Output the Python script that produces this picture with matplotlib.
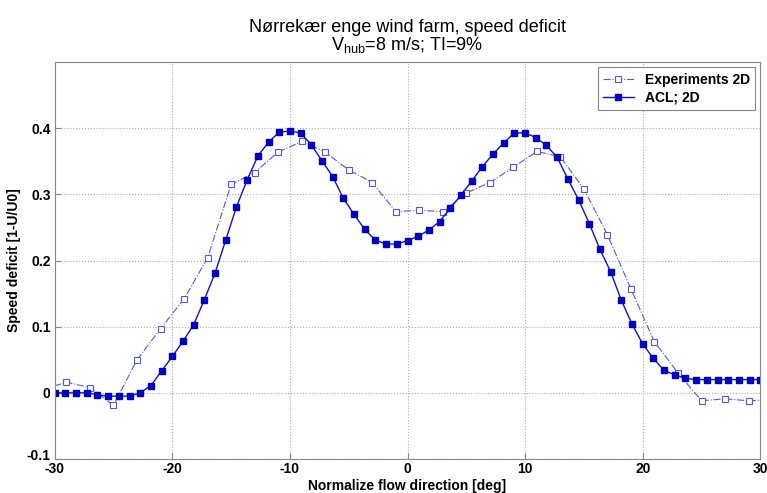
import numpy as np
import matplotlib
matplotlib.use('Agg')
import matplotlib.pyplot as plt
import matplotlib.transforms as mtransforms

plt.rcParams['font.family'] = ['Liberation Sans', 'DejaVu Sans']

# ACL; 2D -- 67 samples over [-30, 30] deg
acl_x = np.linspace(-30, 30, 67)
acl_y = [0.000, 0.000, 0.000, 0.000, -0.003, -0.005, -0.005, -0.005, 0.000, 0.011,
         0.033, 0.055, 0.078, 0.103, 0.141, 0.181, 0.231, 0.281, 0.322, 0.358,
         0.379, 0.394, 0.396, 0.393, 0.375, 0.351, 0.327, 0.294, 0.270, 0.247,
         0.231, 0.225, 0.225, 0.230, 0.237, 0.246, 0.259, 0.279, 0.299, 0.320,
         0.342, 0.361, 0.378, 0.393, 0.393, 0.386, 0.374, 0.356, 0.323, 0.292,
         0.256, 0.217, 0.183, 0.140, 0.104, 0.074, 0.052, 0.034, 0.027, 0.022,
         0.020, 0.020, 0.020, 0.020, 0.020, 0.020, 0.020]

# Experiments 2D
exp_x = [-31, -29, -27, -25, -23, -21, -19, -17, -15, -13, -11, -9, -7, -5, -3, -1,
         1, 3, 5, 7, 9, 11, 13, 15, 17, 19, 21, 23, 25, 27, 29, 31]
exp_y = [0.005, 0.016, 0.008, -0.019, 0.050, 0.097, 0.142, 0.204, 0.315, 0.333,
         0.364, 0.380, 0.364, 0.337, 0.318, 0.274,
         0.276, 0.274, 0.302, 0.318, 0.341, 0.365, 0.357, 0.308, 0.239, 0.157,
         0.077, 0.030, -0.012, -0.009, -0.012, -0.010]

xticks = [-30, -20, -10, 0, 10, 20, 30]
yticks = [-0.1, 0, 0.1, 0.2, 0.3, 0.4]

fig = plt.figure(figsize=(7.67, 4.93), dpi=100)
ax = fig.add_axes([0.0713, 0.069, 0.920, 0.805])

ax.plot(exp_x, exp_y, linestyle='-.', color='#5555ee', linewidth=0.8,
        marker='s', markersize=4, markerfacecolor='white',
        markeredgecolor='#5555ee', markeredgewidth=0.8, label='Experiments 2D')
ax.plot(acl_x, acl_y, linestyle='-', color='#1010d0', linewidth=1.0,
        marker='s', markersize=4, markerfacecolor='#0000c0',
        markeredgecolor='#0000c0', label='ACL; 2D')

ax.set_xlim(-30, 30)
ax.set_ylim(-0.1, 0.5)
ax.set_xticks(xticks)
ax.set_yticks(yticks)
ax.set_xticklabels([str(t) for t in xticks])
ax.set_yticklabels(['-0.1', '0', '0.1', '0.2', '0.3', '0.4'])
ax.tick_params(direction='in', labelsize=10, length=4, color='#888888')
ax.tick_params(axis='x', pad=2.5)
ax.tick_params(axis='y', pad=3)
for lab in ax.get_xticklabels() + ax.get_yticklabels():
    lab.set_fontweight('bold')
# lift the -0.1 label a little so it sits above the -30 label
lowest = ax.get_yticklabels()[0]
lowest.set_transform(lowest.get_transform() +
                     mtransforms.ScaledTranslation(0, 3 / 72, fig.dpi_scale_trans))
ax.grid(True, linestyle=':', color='#aaaaaa', linewidth=0.8)
for s in ax.spines.values():
    s.set_color('#888888')

ax.set_xlabel('Normalize flow direction [deg]', fontsize=10, fontweight='bold', labelpad=1.5)
ax.set_ylabel('Speed deficit [1-U/U0]', fontsize=10, fontweight='bold', labelpad=4)
ax.set_title('Nørrekær enge wind farm, speed deficit\n$\\mathregular{V_{hub}}$=8 m/s; TI=9%',
             fontsize=13, linespacing=0.9, pad=9)

leg = ax.legend(loc='upper right', prop={'weight': 'bold', 'size': 10},
                fancybox=False, edgecolor='#888888', framealpha=1,
                handlelength=2.2, borderaxespad=0.35, labelspacing=0.3)
leg.get_frame().set_linewidth(0.8)

fig.savefig('out.png', dpi=100)
